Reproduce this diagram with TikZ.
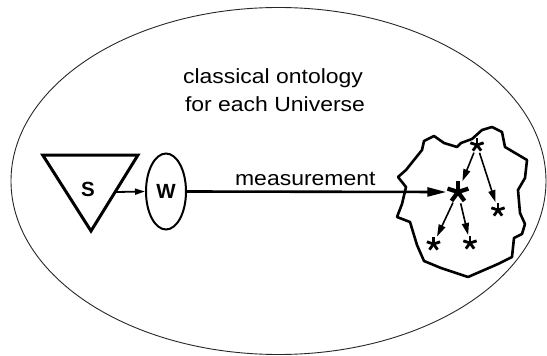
\documentclass[tikz,border=0pt]{standalone}
\usepackage{fontspec}
\setmainfont{Liberation Sans}
\usetikzlibrary{shapes.geometric,arrows.meta}
\tikzset{
  lbl/.style={inner sep=0pt, font=\fontsize{20.5}{24}\selectfont},
  letter/.style={font=\fontsize{20.5}{24}\selectfont\bfseries},
  bigast/.style={circle, inner sep=0pt, minimum size=23pt,
    path picture={\foreach \a in {90,18,162,234,306}{\draw[line width=4.2pt] (path picture bounding box.center) -- ++(\a:11pt);}}},
  smallast/.style={circle, inner sep=0pt, minimum size=16pt,
    path picture={\foreach \a in {90,18,162,234,306}{\draw[line width=2.8pt] (path picture bounding box.center) -- ++(\a:7pt);}}},
  starrow/.style={line width=1.6pt, -{Triangle[length=12pt,width=7pt]}},
}
\begin{document}
\begin{tikzpicture}[x=1pt,y=-1pt]
\useasboundingbox (0,0) rectangle (547,356);
% universe ellipse
\node[draw=black!85, line width=0.9pt, ellipse, inner sep=0pt, minimum width=535pt, minimum height=347pt] (U) at (278.5,181) {};
% texts
\node[lbl, anchor=base] (t1) at (273,83) {\scalebox{1.12}[1]{classical ontology}};
\node[lbl, anchor=base] (t2) at (275,111) {\scalebox{1.12}[1]{for each Universe}};
% triangle S
\draw[line width=3pt, line join=miter] (42.7,155) -- (138,155) -- (91,231) -- cycle;
\coordinate (sr) at (116,192);
\node[letter] (S) at (88,189) {S};
% W
\node[draw, ellipse, line width=2pt, inner sep=0pt, minimum width=40pt, minimum height=76pt, letter] (W) at (166,191.5) {W};
\draw[line width=1.8pt, -{Triangle[length=10pt,width=6pt]}] (sr) -- (W.west);
% cloud
\draw[line width=2.6pt, line join=round]
  (406,187) -- (398,177) -- (406,170) -- (422,150) -- (424,141) -- (434,136) -- (444,143) -- (457,147) -- (461,143) -- (472,139) -- (482,130) -- (492,127) -- (502,132) -- (505,147) -- (527,160) -- (525,178) -- (518,190) -- (520,213) -- (525,224) -- (522,234) -- (514,238) -- (512,257) -- (498,264) -- (468,277) -- (441,268) -- (424,261) -- (417,245) -- (410,222) -- (397,217) -- (402,204) -- cycle;
% stars
\node[bigast] (B) at (458,192) {};
\node[smallast] (T) at (477,145) {};
\node[smallast] (R) at (498,210) {};
\node[smallast] (L) at (433.5,244) {};
\node[smallast] (M) at (470,243) {};
% measurement
\draw[line width=2.6pt, -{Triangle[length=19pt,width=9pt]}] (W.east) -- (B.west);
\node[lbl, anchor=base] (m) at (305.3,185) {\scalebox{1.12}[1]{measurement}};
\draw[starrow] (T) -- (B);
\draw[starrow] (T) -- (R);
\draw[starrow] (B) -- (L);
\draw[starrow] (B) -- (M);
\end{tikzpicture}
\end{document}
